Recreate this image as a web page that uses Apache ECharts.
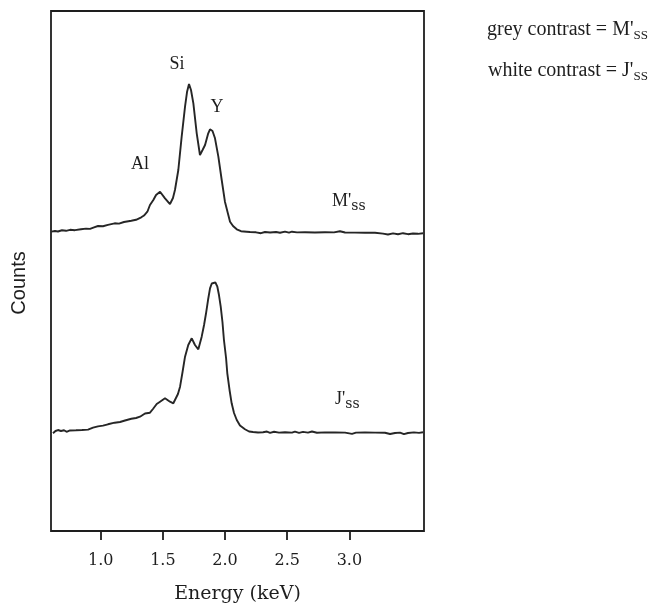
<!DOCTYPE html>
<html>
<head>
<meta charset="utf-8">
<script src="https://cdn.jsdelivr.net/npm/echarts@6/dist/echarts.min.js"></script>
<style>
html,body{margin:0;padding:0;background:#fff;}
#chart{width:656px;height:606px;}
</style>
</head>
<body>
<div id="chart"></div>
<script>
// Energy (keV) and counts (arbitrary units, 0-100 of the frame height)
const energyM = [0.602,0.632,0.656,0.688,0.721,0.753,0.793,0.841,0.882,0.914,0.946,0.978,1.018,1.058,1.112,1.147,1.187,1.246,1.284,1.326,1.348,1.375,1.396,1.423,1.445,1.477,1.493,1.517,1.557,1.581,1.597,1.624,1.651,1.678,1.694,1.710,1.726,1.745,1.772,1.798,1.819,1.839,1.863,1.879,1.899,1.919,1.946,1.973,1.999,2.024,2.040,2.064,2.094,2.128,2.174,2.201,2.249,2.289,2.321,2.362,2.410,2.442,2.482,2.514,2.538,2.579,2.643,2.723,2.804,2.876,2.924,2.965,3.045,3.125,3.206,3.270,3.310,3.351,3.391,3.431,3.471,3.512,3.552,3.592];
const countsM = [57.56,57.69,57.60,57.83,57.73,57.92,57.85,58.02,58.15,58.10,58.38,58.65,58.60,58.88,59.17,59.12,59.42,59.67,59.85,60.33,60.67,61.40,62.69,63.65,64.62,65.25,65.00,63.98,62.88,64.04,65.58,69.42,75.83,81.60,84.42,85.96,84.81,82.25,76.48,72.31,73.27,74.23,76.35,77.25,76.92,75.52,71.98,67.50,63.33,60.96,59.48,58.65,58.02,57.65,57.56,57.50,57.44,57.27,57.50,57.40,57.50,57.35,57.58,57.38,57.56,57.42,57.44,57.40,57.44,57.42,57.65,57.40,57.38,57.37,57.35,57.19,57.02,57.23,57.06,57.27,57.08,57.21,57.15,57.25];

const energyJ = [0.616,0.636,0.656,0.680,0.705,0.725,0.753,0.801,0.849,0.898,0.938,0.978,1.018,1.058,1.112,1.155,1.195,1.246,1.284,1.316,1.356,1.396,1.420,1.450,1.477,1.517,1.557,1.584,1.597,1.621,1.638,1.658,1.678,1.704,1.732,1.758,1.785,1.812,1.831,1.847,1.863,1.879,1.893,1.905,1.922,1.938,1.951,1.965,1.979,1.991,2.008,2.018,2.036,2.053,2.072,2.094,2.120,2.160,2.193,2.225,2.265,2.305,2.337,2.362,2.394,2.434,2.482,2.538,2.562,2.595,2.627,2.667,2.699,2.739,2.804,2.884,2.965,3.021,3.053,3.125,3.206,3.286,3.327,3.367,3.407,3.439,3.471,3.519,3.560,3.592];
const countsJ = [18.79,19.23,19.42,19.23,19.38,19.08,19.33,19.37,19.42,19.50,19.88,20.13,20.27,20.52,20.83,20.96,21.25,21.58,21.73,21.98,22.60,22.75,23.46,24.42,24.87,25.52,24.87,24.56,24.62,26.35,27.75,30.58,33.52,35.77,37.06,35.77,34.94,37.37,39.62,41.87,44.42,46.67,47.60,47.94,47.79,46.98,45.38,43.13,40.19,36.73,33.27,30.33,27.12,24.56,22.69,21.35,20.29,19.56,19.13,19.04,18.94,19.00,19.13,18.88,19.08,18.92,18.98,18.92,19.12,18.88,19.06,18.92,19.13,18.90,18.96,18.94,18.92,18.67,18.92,18.94,18.92,18.90,18.65,18.85,18.92,18.62,18.85,18.96,18.88,19.00];

const tickValues = [1.0, 1.5, 2.0, 2.5, 3.0];

const serif = '"Liberation Serif", "Times New Roman", serif';
const bookish = '"DejaVu Serif", serif';
const ink = '#1e1e1e';

const chart = echarts.init(document.getElementById('chart'));
const zip = (xs, ys) => xs.map((x, i) => [x, ys[i]]);

chart.setOption({
  animation: false,
  backgroundColor: '#fff',
  grid: {
    left: 51, right: 232, top: 11, bottom: 75,
    show: true, borderColor: '#1e1e1e', borderWidth: 1.8,
    containLabel: false, outerBoundsMode: 'none'
  },
  xAxis: {
    type: 'value', min: 0.6, max: 3.6,
    name: 'Energy (keV)', nameLocation: 'middle', nameGap: 54,
    nameTextStyle: { fontFamily: bookish, fontSize: 19, color: ink },
    axisLine: { show: false },
    splitLine: { show: false },
    axisTick: { show: true, inside: false, length: 9, customValues: tickValues,
      lineStyle: { color: '#1e1e1e', width: 1.8 } },
    axisLabel: { customValues: tickValues, margin: 22,
      formatter: v => v.toFixed(1),
      fontFamily: bookish, fontSize: 16, color: ink }
  },
  yAxis: {
    type: 'value', min: 0, max: 100,
    axisLine: { show: false }, axisTick: { show: false },
    axisLabel: { show: false }, splitLine: { show: false }
  },
  series: [
    { type: 'line', data: zip(energyM, countsM), showSymbol: false, smooth: false,
      lineStyle: { color: '#262626', width: 1.9 } },
    { type: 'line', data: zip(energyJ, countsJ), showSymbol: false, smooth: false,
      lineStyle: { color: '#262626', width: 1.9 } }
  ],
  graphic: [
    { type: 'text', x: 19, y: 283, rotation: Math.PI / 2,
      style: { text: 'Counts', font: '20px "Liberation Sans", Arial, sans-serif', fill: ink, textAlign: 'center', textVerticalAlign: 'middle' } },
    { type: 'text', x: 177, y: 64, style: { text: 'Si', font: '18px ' + serif, fill: ink, textAlign: 'center', textVerticalAlign: 'middle' } },
    { type: 'text', x: 217, y: 107, style: { text: 'Y', font: '18px ' + serif, fill: ink, textAlign: 'center', textVerticalAlign: 'middle' } },
    { type: 'text', x: 140, y: 164, style: { text: 'Al', font: '18px ' + serif, fill: ink, textAlign: 'center', textVerticalAlign: 'middle' } },
    { type: 'text', x: 332, y: 190, style: { text: "{a|M'}{b|ss}", fill: ink,
      rich: { a: { fontFamily: serif, fontSize: 18, lineHeight: 23, fill: ink },
              b: { fontFamily: bookish, fontSize: 14, verticalAlign: 'bottom', fill: ink } } } },
    { type: 'text', x: 335, y: 388, style: { text: "{a|J'}{b|ss}", fill: ink,
      rich: { a: { fontFamily: serif, fontSize: 18, lineHeight: 23, fill: ink },
              b: { fontFamily: bookish, fontSize: 14, verticalAlign: 'bottom', fill: ink } } } },
    { type: 'text', x: 487, y: 18, style: { text: "{a|grey contrast = M'}{b|SS}", fill: ink,
      rich: { a: { fontFamily: serif, fontSize: 20, lineHeight: 24, fill: ink },
              b: { fontFamily: serif, fontSize: 13, verticalAlign: 'bottom', fill: ink } } } },
    { type: 'text', x: 488, y: 59, style: { text: "{a|white contrast = J'}{b|SS}", fill: ink,
      rich: { a: { fontFamily: serif, fontSize: 20, lineHeight: 24, fill: ink },
              b: { fontFamily: serif, fontSize: 13, verticalAlign: 'bottom', fill: ink } } } }
  ]
});
</script>
</body>
</html>
